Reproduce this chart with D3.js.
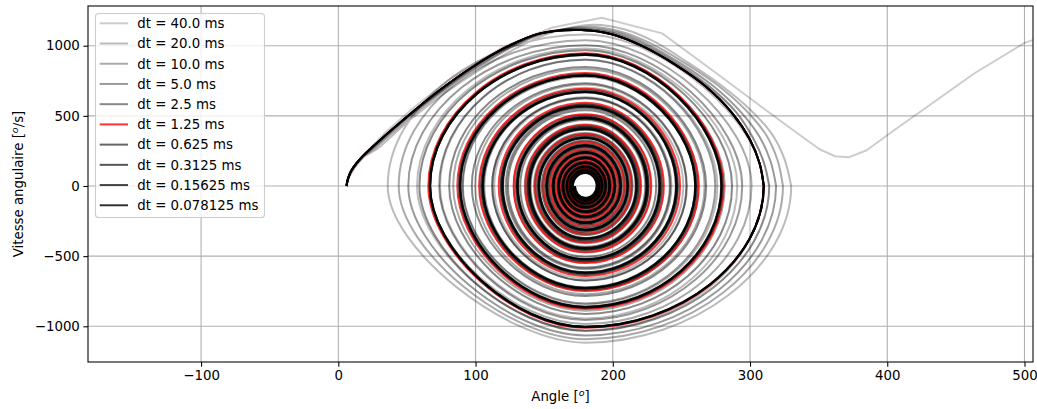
<!DOCTYPE html>
<html>
<head>
<meta charset="utf-8">
<script src="https://cdn.jsdelivr.net/npm/d3@7"></script>
<style>
  body { margin: 0; background: #fff; }
  svg text { font-family: "DejaVu Sans", sans-serif; fill: #000; }
</style>
</head>
<body>
<div id="chart"></div>
<script>
// Pas de temps (legende), du plus grossier au plus fin
const dts = ["40.0", "20.0", "10.0", "5.0", "2.5", "1.25", "0.625", "0.3125", "0.15625", "0.078125"];
const xTicks = [-100, 0, 100, 200, 300, 400, 500];
const yTicks = [-1000, -500, 0, 500, 1000];

// dt = 40 ms : trajectoire qui passe par-dessus (polyligne)
const traj_40 = [[6,0],[6.6,25],[8,65],[12,130],[19,220],[33,370],[55,560],[84,780],[120,990],[156,1130],
  [192,1199],[236,1088],[276,800],[309,560],[334,380],[351,260],[362,212],[372,205],[385,255],[404,390],
  [430,570],[463,800],[500,1020],[540,1150]];

// premier demi-tour [angle, vitesse] jusqu'au premier passage a vitesse nulle
const debut_20 = [[6,0],[6.5,28],[7.6,62],[9.8,105],[13.5,155],[19,210],[29,270],[52,470],[78,665],[104,835],
  [130,985],[156,1095],[186,1150],[209,1115],[231,1025],[254,885],[278,725],[300,545],[316,370],[325,195],[330,0]];
const debut_10 = [[6,0],[6.5,29],[7.5,63],[9.6,107],[13.2,157],[18.5,212],[27,272],[51,478],[76,670],[101,840],
  [126,988],[152,1092],[183,1135],[206,1100],[228,1015],[252,880],[276,722],[297,540],[312,360],[320,185],[324,0]];
const debut_5 = [[6,0],[6.5,30],[7.5,64],[9.5,108],[13,158],[18,214],[26,276],[50,485],[75,676],[100,845],
  [125,990],[150,1093],[181,1125],[204,1092],[226,1006],[250,870],[273,714],[293,530],[307,350],[315,175],[319,0]];
const debut_25 = [[6,0],[6.5,30],[7.5,65],[9.5,110],[13,160],[18,215],[25,278],[50,490],[75,680],[99,848],
  [124,993],[149,1091],[179,1118],[202,1086],[224,1000],[248,866],[270,712],[290,525],[302,345],[310,170],[314,0]];
const debut_fin = [[6,0],[6.5,30],[7.5,65],[9.5,110],[13,160],[18,215],[25,280],[50,494],[74,684],[98,850],
  [123,993],[147,1088],[177,1112],[200,1080],[222,995],[246,862],[268,708],[287,520],[300,330],[307,160],[310,0]];

// angles ou la vitesse s'annule ensuite (gauche, droite, gauche, ...)
const angles_20 = [36, 309.8, 57.4, 290.7, 74.1, 276.2, 90.4, 262.6, 103.2, 251.4, 113.6, 242, 122.6, 233.4, 130.3, 226.1, 137.2, 219.8, 143.3, 214.1, 148.3, 209.4, 152.8, 205.2, 156.7, 201.7, 160, 198.5, 162.7];
const angles_10 = [44, 301.1, 66.6, 281.6, 83.7, 266.9, 99.7, 253.6, 112.1, 242.7, 122, 233.8, 130.5, 225.8, 137.6, 219.2, 143.9, 213.5, 149.3, 208.4, 153.7, 204.3, 157.6, 200.6, 161, 197.6, 163.8, 195, 166.1];
const angles_5 = [51, 294.3, 73.5, 274.7, 90.7, 260.1, 106.3, 247.1, 118.4, 236.6, 127.9, 228.1, 135.9, 220.6, 142.6, 214.4, 148.4, 209.2, 153.3, 204.5, 157.4, 200.8, 160.8, 197.6, 163.9, 194.9, 166.3, 192.6, 168.4];
const angles_25 = [59.1, 286.9, 80.8, 268, 97.3, 253.9, 112.2, 241.6, 123.6, 231.6, 132.6, 223.7, 140.1, 216.6, 146.4, 210.9, 151.7, 206, 156.2, 201.8, 159.9, 198.4, 163.1, 195.5, 165.9, 193.1, 168, 191, 169.9];
const angles_125 = [65.6, 280.8, 86.7, 262.6, 102.6, 249, 116.9, 237.2, 127.8, 227.7, 136.3, 220.2, 143.4, 213.5, 149.3, 208.2, 154.3, 203.6, 158.5, 199.7, 161.9, 196.6, 164.8, 193.9, 167.3, 191.7, 169.3, 189.8, 171];
const angles_0625 = [66.4, 279.9, 87.9, 261.3, 104.1, 247.5, 118.4, 235.6, 129.4, 226.1, 137.9, 218.6, 145, 212, 150.7, 206.7, 155.6, 202.3, 159.7, 198.5, 163, 195.5, 165.9, 192.9, 168.3, 190.8, 170.2, 189, 171.7];
const angles_0312 = [66.8, 279.4, 88.5, 260.6, 104.8, 246.7, 119.3, 234.8, 130.2, 225.3, 138.7, 217.8, 145.8, 211.2, 151.5, 206, 156.3, 201.7, 160.4, 197.9, 163.6, 194.9, 166.4, 192.4, 168.7, 190.3, 170.6, 188.6, 172.1];
const angles_0156 = [66.9, 279.2, 88.7, 260.2, 105.2, 246.3, 119.6, 234.4, 130.6, 224.9, 139.1, 217.4, 146.1, 210.9, 151.8, 205.7, 156.7, 201.3, 160.7, 197.6, 163.9, 194.7, 166.6, 192.1, 169, 190.1, 170.8, 188.4, 172.3];
const angles_0078 = [67, 279, 89, 260, 105.5, 246, 120, 234, 131, 224.5, 139.5, 217, 146.5, 210.5, 152.2, 205.3, 157, 201, 161, 197.3, 164.2, 194.4, 166.9, 191.9, 169.2, 189.9, 171, 188.2, 172.5];

// vitesses extremes entre deux passages (vers 180 deg)
const pics_20 = [-1117, 1079, -1029, 980, -944, 902, -844, 790, -744, 700, -658, 624, -587, 552, -521, 490, -458, 429, -401, 373, -348, 325, -302, 280, -260, 241, -224, 207, -192];
const pics_10 = [-1092, 1039, -983, 941, -889, 834, -771, 723, -673, 632, -593, 556, -522, 489, -454, 424, -395, 367, -340, 315, -292, 271, -250, 230, -212, 196, -181, 167, -155];
const pics_5 = [-1065, 1004, -955, 900, -837, 779, -722, 669, -625, 582, -544, 509, -474, 439, -408, 378, -349, 323, -298, 274, -253, 232, -214, 197, -181, 166, -153, 141, -129];
const pics_25 = [-1033, 968, -912, 849, -784, 733, -674, 628, -581, 540, -504, 470, -433, 401, -370, 342, -315, 290, -266, 244, -225, 207, -189, 173, -158, 146, -135, 123, -113];
const pics_125 = [-1011, 947, -877, 805, -748, 693, -642, 593, -549, 510, -470, 435, -402, 369, -339, 312, -285, 262, -240, 220, -201, 184, -168, 154, -141, 129, -118, 108, -99];
const pics_0625 = [-1007, 941, -869, 796, -738, 682, -630, 581, -536, 497, -456, 422, -389, 356, -326, 300, -273, 251, -229, 209, -191, 174, -159, 145, -132, 121, -110, 101, -92];
const pics_0312 = [-1005, 937, -864, 790, -731, 674, -622, 572, -528, 488, -448, 413, -380, 348, -318, 292, -265, 243, -222, 203, -184, 168, -153, 139, -127, 116, -106, 96, -88];
const pics_0156 = [-1004, 935, -862, 787, -728, 671, -618, 569, -524, 484, -444, 409, -376, 344, -314, 288, -262, 240, -218, 199, -181, 165, -150, 137, -125, 113, -103, 94, -86];
const pics_0078 = [-1003, 934, -860, 785, -725, 668, -615, 565, -520, 480, -440, 405, -372, 340, -310, 284, -258, 236, -215, 196, -178, 162, -147, 134, -122, 111, -101, 92, -84];

const equilibre = 180;

const series = [
  { debut: traj_40 },
  { debut: debut_20, angles: angles_20, pics: pics_20 },
  { debut: debut_10, angles: angles_10, pics: pics_10 },
  { debut: debut_5, angles: angles_5, pics: pics_5 },
  { debut: debut_25, angles: angles_25, pics: pics_25 },
  { debut: debut_fin, angles: angles_125, pics: pics_125 },
  { debut: debut_fin, angles: angles_0625, pics: pics_0625 },
  { debut: debut_fin, angles: angles_0312, pics: pics_0312 },
  { debut: debut_fin, angles: angles_0156, pics: pics_0156 },
  { debut: debut_fin, angles: angles_0078, pics: pics_0078 }
].map((s, i) => ({ ...s, label: `dt = ${dts[i]} ms` }));

// styles
const alphas = [0.2, 0.267, 0.333, 0.4, 0.467, 0.8, 0.6, 0.667, 0.733, 0.8];
const colour = i => i === 5 ? "#ff0000" : "#000000";

const W = 1037, H = 409;
const plot = { left: 88, right: 1033, top: 6, bottom: 362 };
const fs = 13.33;

const svg = d3.select("#chart").append("svg")
  .attr("width", W).attr("height", H)
  .attr("viewBox", `0 0 ${W} ${H}`);

const x = d3.scaleLinear().domain([-182.4, 506.2]).range([plot.left, plot.right]);
const y = d3.scaleLinear().domain([-1254.5, 1283]).range([plot.bottom, plot.top]);

svg.append("defs").append("clipPath").attr("id", "clip")
  .append("rect")
  .attr("x", plot.left).attr("y", plot.top)
  .attr("width", plot.right - plot.left).attr("height", plot.bottom - plot.top);

// Grid
const grid = svg.append("g").attr("stroke", "#b0b0b0").attr("stroke-width", 1.07);
grid.selectAll(".gx").data(xTicks).join("line")
  .attr("x1", d => x(d)).attr("x2", d => x(d))
  .attr("y1", plot.top).attr("y2", plot.bottom);
grid.selectAll(".gy").data(yTicks).join("line")
  .attr("y1", d => y(d)).attr("y2", d => y(d))
  .attr("x1", plot.left).attr("x2", plot.right);

// Trajectoires
const line = d3.line().x(d => x(d[0])).y(d => y(d[1]));
const smooth = d3.line().x(d => x(d[0])).y(d => y(d[1])).curve(d3.curveCatmullRom.alpha(0.5));

// quart de tour entre un passage a vitesse nulle et un pic de vitesse :
// courbe de Bezier, un peu aplatie pres de la separatrice (grands angles)
const K = 0.5523;
function spiralPath(s) {
  let p = smooth(s.debut);
  const cx = x(equilibre), cy = y(0);
  let prev = s.debut[s.debut.length - 1][0];
  s.angles.forEach((a, i) => {
    const px = x(prev), vy = y(s.pics[i]), ax = x(a);
    const k1 = K - 0.03 * Math.pow(Math.abs(prev - equilibre) / 150, 2);
    p += `C${px},${cy + k1 * (vy - cy)} ${cx + k1 * (px - cx)},${vy} ${cx},${vy}`;
    const k2 = K - 0.17 * Math.pow(Math.abs(a - equilibre) / 150, 2);
    p += `C${cx + k2 * (ax - cx)},${vy} ${ax},${cy + k2 * (vy - cy)} ${ax},${cy}`;
    prev = a;
  });
  return p;
}

const traces = svg.append("g").attr("clip-path", "url(#clip)");
traces.selectAll("path").data(series).join("path")
  .attr("d", s => s.angles ? spiralPath(s) : line(s.debut))
  .attr("fill", "none")
  .attr("stroke", (d, i) => colour(i))
  .attr("stroke-opacity", (d, i) => alphas[i])
  .attr("stroke-width", 2)
  .attr("stroke-linejoin", "round");

// Axes
const minus = d => d < 0 ? "\u2212" + Math.abs(d) : String(d);

const gx = svg.append("g")
  .attr("transform", `translate(0,${plot.bottom})`)
  .call(d3.axisBottom(x).tickValues(xTicks).tickFormat(minus).tickSize(4.67).tickPadding(3.5))
  .call(g => g.select(".domain").remove());
const gy = svg.append("g")
  .attr("transform", `translate(${plot.left},0)`)
  .call(d3.axisLeft(y).tickValues(yTicks).tickFormat(minus).tickSize(4.67).tickPadding(3.5))
  .call(g => g.select(".domain").remove());
[gx, gy].forEach(g => {
  g.selectAll("line").attr("stroke", "#000").attr("stroke-width", 1.07);
  g.selectAll("text").attr("font-size", fs).attr("font-family", "DejaVu Sans").attr("fill", "#000");
});

svg.append("rect")
  .attr("x", plot.left).attr("y", plot.top)
  .attr("width", plot.right - plot.left).attr("height", plot.bottom - plot.top)
  .attr("fill", "none").attr("stroke", "#000").attr("stroke-width", 1.07);

// Labels
const xl = svg.append("text")
  .attr("x", (plot.left + plot.right) / 2).attr("y", 401)
  .attr("text-anchor", "middle").attr("font-size", fs);
xl.append("tspan").text("Angle [");
xl.append("tspan").attr("font-size", 9.5).attr("font-style", "italic").attr("dy", -5).text("o");
xl.append("tspan").attr("dy", 5).text("]");

const yl = svg.append("text")
  .attr("transform", `translate(23,${(plot.top + plot.bottom) / 2}) rotate(-90)`)
  .attr("text-anchor", "middle").attr("font-size", fs);
yl.append("tspan").text("Vitesse angulaire [");
yl.append("tspan").attr("font-size", 9.5).attr("font-style", "italic").attr("dy", -5).text("o");
yl.append("tspan").attr("dy", 5).text("/s]");

// Legend
const legend = svg.append("g");
legend.append("rect")
  .attr("x", 95.5).attr("y", 13.5).attr("width", 169).attr("height", 204).attr("rx", 3)
  .attr("fill", "#fff").attr("fill-opacity", 0.8)
  .attr("stroke", "#cccccc").attr("stroke-width", 1.07);
const rows = legend.selectAll(".row").data(series).join("g")
  .attr("transform", (d, i) => `translate(0,${23.3 + i * 20.22})`);
rows.append("line")
  .attr("x1", 99.7).attr("x2", 128).attr("y1", 0).attr("y2", 0)
  .attr("stroke", (d, i) => colour(i))
  .attr("stroke-opacity", (d, i) => alphas[i])
  .attr("stroke-width", 2);
rows.append("text")
  .attr("x", 137.3).attr("dy", "0.36em")
  .attr("font-size", fs)
  .text(d => d.label);
</script>
</body>
</html>
